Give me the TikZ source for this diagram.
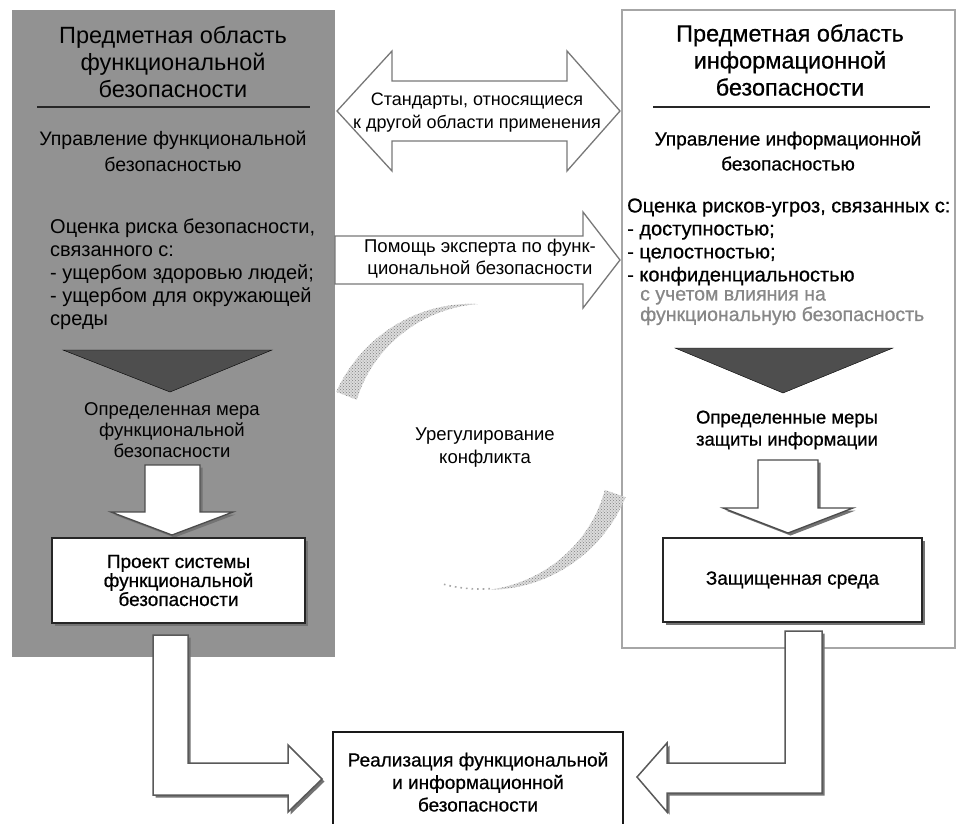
\documentclass[tikz,border=0pt]{standalone}
\usepackage{fontspec}
\setmainfont{Liberation Sans}
\newfontfamily\heavyfont{Liberation Sans}[FakeBold=0.7]
\usetikzlibrary{shadows,patterns}
\definecolor{panelgray}{RGB}{146,146,146}
\definecolor{darktri}{RGB}{78,78,78}
\definecolor{arrowline}{RGB}{120,120,120}
\definecolor{lightnote}{RGB}{135,135,135}
\begin{document}
\begin{tikzpicture}[x=1pt,y=-1pt,
  txt/.style={inner sep=0pt, font=\fontsize{18.5}{22.5}\selectfont, align=center},
  ttl/.style={inner sep=0pt, font=\fontsize{23.5}{27}\selectfont, align=center},
  mgmt/.style={inner sep=0pt, font=\fontsize{19.5}{26}\selectfont, align=center},
  body/.style={inner sep=0pt, font=\fontsize{20}{23}\selectfont, align=left, anchor=west},
  note/.style={inner sep=0pt, font=\heavyfont\fontsize{19.5}{20.5}\selectfont, align=left, anchor=west, text=lightnote},
  meas/.style={inner sep=0pt, font=\fontsize{18.5}{21}\selectfont, align=center},
  heavy/.style 2 args={font=\heavyfont\fontsize{#1}{#2}\selectfont},
  sepline/.style={draw=black!85, line width=1.3pt},
  shadowed/.style={drop shadow={shadow xshift=2.5pt, shadow yshift=-2.5pt, fill=black!55, opacity=1}},
  hollow/.style={fill=white, draw=arrowline, line width=1.3pt, line join=miter},
  downarrow/.style={fill=white, draw=black!70, line width=1.3pt, line join=miter, shadowed},
  bent/.style={fill=white, draw=black!65, line width=1.5pt, line join=miter, shadowed},
  boxstyle/.style={draw=black!85, line width=1.6pt, fill=white, shadowed, inner sep=0pt, align=center},
  resbox/.style={draw=black!90, line width=1.4pt, fill=white, inner sep=0pt},
  tri/.style={fill=darktri},
  band/.style={fill=gray!28, postaction={pattern=crosshatch dots, pattern color=gray}}
]
\useasboundingbox (0,0) rectangle (957,823);
\fill[white] (0,0) rectangle (957,823);

% ---------- left panel ----------
\fill[panelgray] (12,10) rectangle (335,657);
\node[ttl] (ltitle) at (173,62) {Предметная область\\функциональной\\безопасности};
\coordinate (lsepA) at (37,107);
\coordinate (lsepB) at (310,107);
\draw[sepline] (lsepA) -- (lsepB);
\node[mgmt] (lmgmt) at (173,151.5) {Управление функциональной\\безопасностью};
\node[body] (lbody) at (50,274) {Оценка риска безопасности,\\связанного с:\\- ущербом здоровью людей;\\- ущербом для окружающей\\среды};
\draw[tri] (63,350) -- (272,350) -- (170,392) -- cycle;
\node[meas] (lmeas) at (172,430.5) {Определенная мера\\функциональной\\безопасности};
\draw[downarrow] (145,465) -- (200,465) -- (200,512) -- (233,512) -- (172,535) -- (111,512) -- (145,512) -- cycle;
\node[boxstyle, minimum width=253pt, minimum height=85pt, heavy={19}{19}] (projL) at (178.5,580.5) {Проект системы\\функциональной\\безопасности};

% ---------- right panel ----------
\draw[fill=white, draw=gray!70, line width=1.6pt] (622,10) rectangle (955,648);
\node[ttl, heavy={23.5}{27}] (rtitle) at (790,60) {Предметная область\\информационной\\безопасности};
\coordinate (rsepA) at (653,107);
\coordinate (rsepB) at (930,107);
\draw[sepline] (rsepA) -- (rsepB);
\node[mgmt, heavy={19}{25}] (rmgmt) at (788,151) {Управление информационной\\безопасностью};
\node[body, heavy={20}{23}] (rbody) at (627,242) {Оценка рисков-угроз, связанных с:\\- доступностью;\\- целостностью;\\- конфиденциальностью};
\node[note] (rnote) at (640,307.5) {с учетом влияния на\\функциональную безопасность};
\draw[tri] (675,348) -- (893,348) -- (783,393) -- cycle;
\node[meas, heavy={18.5}{22}] (rmeas) at (787,430) {Определенные меры\\защиты информации};
\draw[downarrow] (758,460) -- (818,460) -- (818,508) -- (853,508) -- (788,533) -- (723,508) -- (758,508) -- cycle;
\node[boxstyle, minimum width=259pt, minimum height=84pt, heavy={19}{19}] (prot) at (792.5,580) {Защищенная среда};

% ---------- middle ----------
\draw[hollow] (337,111) -- (392,51) -- (392,81) -- (567,81) -- (567,51) -- (620,111) -- (567,171) -- (567,141) -- (392,141) -- (392,171) -- cycle;
\node[txt, font=\fontsize{18}{22.5}\selectfont] (std) at (477,112.5) {Стандарты, относящиеся\\к другой области применения};
\draw[hollow] (335,236) -- (583,236) -- (583,212) -- (620,260) -- (583,308) -- (583,284) -- (335,284) -- cycle;
\node[txt] (help) at (480,258.5) {Помощь эксперта по функ-\\циональной безопасности};

\path[band] plot[domain=201:269, samples=40] ({480+(143+11*(269-\x)/68)*cos(\x)}, {447+(143+11*(269-\x)/68)*sin(\x)})
  -- plot[domain=269:201, samples=40] ({480+(143-11*(269-\x)/68)*cos(\x)}, {447+(143-11*(269-\x)/68)*sin(\x)}) -- cycle;
\path[band] plot[domain=19:86, samples=40] ({480+(143+11*(86-\x)/67)*cos(\x)}, {447+(143+11*(86-\x)/67)*sin(\x)})
  -- plot[domain=86:19, samples=40] ({480+(143-11*(86-\x)/67)*cos(\x)}, {447+(143-11*(86-\x)/67)*sin(\x)}) -- cycle;
\coordinate (cc) at (480,447);
\draw[draw=gray!70, loosely dotted, line width=1.6pt] (cc) ++(86:142) arc[start angle=86, end angle=105, radius=142];
\node[txt] (confl) at (485,447.5) {Урегулирование\\конфликта};

% ---------- bottom ----------
\node[resbox, minimum width=290pt, minimum height=110pt] (res) at (478,787) {};
\node[txt, heavy={19}{22.5}] (restext) at (478,782) {Реализация функциональной\\и информационной\\безопасности};
\draw[bent] (153,635) -- (153,795) -- (288,795) -- (288,812) -- (322,779) -- (288,745) -- (288,763) -- (188,763) -- (188,635) -- cycle;
\draw[bent] (822,631) -- (822,793) -- (667,793) -- (667,812) -- (637,777) -- (667,743) -- (667,763) -- (785,763) -- (785,631) -- cycle;
\end{tikzpicture}
\end{document}
